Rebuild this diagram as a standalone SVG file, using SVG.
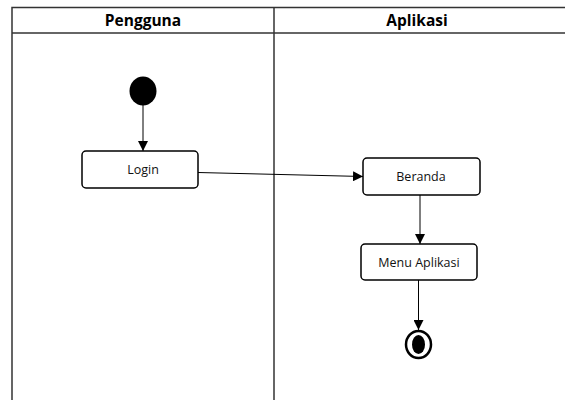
<svg xmlns="http://www.w3.org/2000/svg" width="565" height="400" viewBox="0 0 565 400">
<defs>
<style>
.lane{fill:none;stroke:#333;stroke-width:1.5}
.act{fill:#fff;stroke:#000;stroke-width:1.5}
.hd{font-family:"Open Sans","Liberation Sans",sans-serif;font-weight:bold;font-size:15.5px;fill:#000;text-anchor:middle}
.lbl{font-family:"Open Sans","Liberation Sans",sans-serif;font-size:12.5px;fill:#111;text-anchor:middle}
.edge{fill:none;stroke:#000;stroke-width:1}
</style>
<marker id="arr" viewBox="0 0 10 10" refX="10" refY="5" markerWidth="10" markerHeight="10" markerUnits="userSpaceOnUse" orient="auto">
<path d="M0,0 L10,5 L0,10 Z" fill="#000"/>
</marker>
</defs>
<rect width="565" height="400" fill="#fff"/>
<g id="lanes">
<rect class="lane" x="12" y="7.5" width="560" height="400"/>
<line class="lane" x1="12" y1="33" x2="572" y2="33"/>
<line class="lane" x1="274" y1="7.5" x2="274" y2="402"/>
<text class="hd" x="143" y="26">Pengguna</text>
<text class="hd" x="417" y="26">Aplikasi</text>
</g>
<g id="connectors">
<line class="edge" x1="143" y1="105" x2="143" y2="151" marker-end="url(#arr)"/>
<line class="edge" x1="198" y1="172.5" x2="363" y2="176.5" marker-end="url(#arr)"/>
<line class="edge" x1="420" y1="195" x2="420" y2="244" marker-end="url(#arr)"/>
<line class="edge" x1="418.5" y1="280" x2="418.5" y2="330" marker-end="url(#arr)"/>
</g>
<g id="start">
<ellipse cx="143" cy="91" rx="13.5" ry="14.5" fill="#000"/>
</g>
<g id="login">
<rect class="act" x="82" y="151" width="116" height="37" rx="4"/>
<text class="lbl" x="143" y="173.5">Login</text>
</g>
<g id="beranda">
<rect class="act" x="363" y="158" width="117" height="37" rx="4"/>
<text class="lbl" x="421" y="180.5">Beranda</text>
</g>
<g id="menu">
<rect class="act" x="361" y="244" width="116" height="36" rx="4"/>
<text class="lbl" x="419" y="266.5">Menu Aplikasi</text>
</g>
<g id="end">
<ellipse cx="418.5" cy="344.5" rx="12.5" ry="13.5" fill="#fff" stroke="#000" stroke-width="2.5"/>
<ellipse cx="418.5" cy="344.5" rx="6.5" ry="9.5" fill="#000"/>
</g>
</svg>
